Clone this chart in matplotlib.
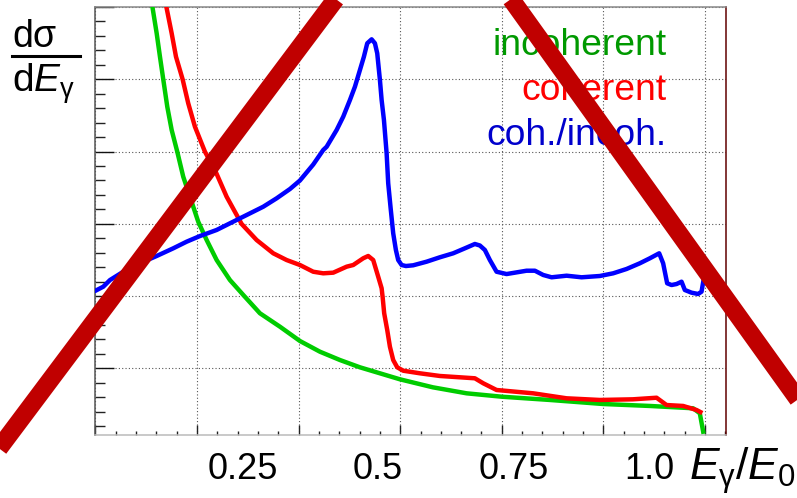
import numpy as np
import matplotlib.pyplot as plt
from matplotlib.lines import Line2D
from matplotlib.transforms import blended_transform_factory

plt.rcParams['font.family'] = ['Liberation Sans', 'DejaVu Sans']
plt.rcParams['mathtext.fontset'] = 'custom'
plt.rcParams['mathtext.rm'] = 'Liberation Sans'
plt.rcParams['mathtext.it'] = 'Liberation Sans:italic'

# incoherent spectrum (x = E_gamma/E0, arbitrary y units)
incoh_x = [0.0869, 0.0938, 0.1004, 0.1058, 0.1112, 0.1178, 0.1250, 0.1342, 0.1440,
           0.1550, 0.1686, 0.1824, 0.1988, 0.2206, 0.2436, 0.2698, 0.3027, 0.3355,
           0.3683, 0.4011, 0.4339, 0.4667, 0.4995, 0.5536, 0.6089, 0.6668, 0.7456,
           0.8330, 0.9096, 0.9806, 0.9916, 0.9971]
incoh_y = [6.374, 5.982, 5.636, 5.312, 4.999, 4.620, 4.298, 3.997, 3.651,
           3.374, 3.028, 2.775, 2.498, 2.221, 2.004, 1.761, 1.575, 1.377,
           1.229, 1.114, 1.013, 0.930, 0.847, 0.736, 0.653, 0.606, 0.561,
           0.505, 0.478, 0.446, 0.376, 0.122]

# coherent spectrum
coh_x = [0.1066, 0.1168, 0.1250, 0.1321, 0.1430, 0.1522, 0.1632, 0.1796, 0.1960,
         0.2152, 0.2398, 0.2644, 0.2917, 0.3136, 0.3355, 0.3573, 0.3737, 0.3901,
         0.4121, 0.4229, 0.4393, 0.4475, 0.4557, 0.4639, 0.4695, 0.4711, 0.4737,
         0.4787, 0.4831, 0.4885, 0.4951, 0.5049, 0.5323, 0.5651, 0.6225, 0.6362,
         0.6581, 0.7182, 0.7730, 0.8276, 0.8817, 0.9206, 0.9370, 0.9642, 0.9862,
         0.9925]
coh_y = [6.374, 5.982, 5.636, 5.312, 4.999, 4.667, 4.343, 3.997, 3.744,
         3.374, 2.997, 2.775, 2.591, 2.498, 2.429, 2.336, 2.314, 2.323,
         2.406, 2.429, 2.522, 2.554, 2.498, 2.267, 2.107, 1.990, 1.761,
         1.529, 1.298, 1.114, 1.013, 0.966, 0.930, 0.893, 0.861, 0.792,
         0.699, 0.653, 0.584, 0.561, 0.570, 0.592, 0.491, 0.478, 0.422,
         0.394]

# ratio coherent / incoherent
ratio_x = [0.0, 0.0128, 0.0238, 0.0456, 0.0730, 0.1004, 0.1276, 0.1496, 0.1714,
           0.1988, 0.2206, 0.2480, 0.2753, 0.2972, 0.3191, 0.3355, 0.3573, 0.3737,
           0.3793, 0.3957, 0.4065, 0.4175, 0.4257, 0.4339, 0.4404, 0.4459, 0.4531,
           0.4585, 0.4623, 0.4667, 0.4695, 0.4733, 0.4777, 0.4803, 0.4843, 0.4885,
           0.4929, 0.4967, 0.5023, 0.5093, 0.5213, 0.5433, 0.5651, 0.5869, 0.6061,
           0.6225, 0.6307, 0.6389, 0.6471, 0.6581, 0.6745, 0.7073, 0.7210, 0.7346,
           0.7484, 0.7730, 0.7976, 0.8276, 0.8494, 0.8714, 0.8932, 0.9096, 0.9249,
           0.9314, 0.9380, 0.9452, 0.9534, 0.9616, 0.9670, 0.9780, 0.9888, 0.9944,
           0.9982]
ratio_y = [2.073, 2.129, 2.221, 2.336, 2.453, 2.554, 2.660, 2.752, 2.830,
           2.914, 3.006, 3.121, 3.236, 3.352, 3.481, 3.599, 3.820, 4.021,
           4.066, 4.298, 4.482, 4.713, 4.897, 5.128, 5.312, 5.498, 5.553,
           5.498, 5.359, 4.990, 4.713, 4.436, 3.975, 3.560, 3.214, 2.868,
           2.637, 2.498, 2.429, 2.415, 2.425, 2.475, 2.536, 2.591, 2.660,
           2.720, 2.699, 2.637, 2.498, 2.336, 2.304, 2.350, 2.350, 2.291,
           2.259, 2.281, 2.259, 2.277, 2.314, 2.374, 2.453, 2.522, 2.591,
           2.453, 2.176, 2.152, 2.166, 2.198, 2.083, 2.046, 2.028, 2.060,
           2.245]

tick_labels = ['0.25', '0.5', '0.75', '1.0']
tick_label_pos = [0.242, 0.463, 0.686, 0.908]
legend_names = ['incoherent', 'coherent', 'coh./incoh.']
legend_colors = ['#009900', '#ff0000', '#0000cc']

fig = plt.figure(figsize=(7.97, 4.98), dpi=100)
ax = fig.add_axes([0.1198, 0.1265, 0.7907, 0.8594])

ax.plot(incoh_x, incoh_y, color='#00cc00', lw=3.2, zorder=3)
ax.plot(coh_x, coh_y, color='#ff0000', lw=3.2, zorder=3)
ax.plot(ratio_x, ratio_y, color='#0000ff', lw=3.2, zorder=3)

ax.set_xlim(0, 1.034)
ax.set_ylim(0.076, 6.0)
ax.set_xticks(np.arange(0, 7) / 6)
ax.set_xticks(np.arange(0, 32) / 30, minor=True)
ax.set_yticks(np.arange(1, 7))
ax.set_yticks(np.arange(1, 30) * 0.2, minor=True)
ax.tick_params(labelbottom=False, labelleft=False)
ax.tick_params(axis='x', which='major', direction='in', length=7.2, width=1, color='#222222')
ax.tick_params(axis='x', which='minor', direction='in', length=3, width=1, color='#222222')
ax.tick_params(axis='y', which='major', direction='in', length=13.7, width=1, color='#111111')
ax.tick_params(axis='y', which='minor', direction='in', length=7, width=1, color='#222222')
ax.grid(which='major', linestyle=(0, (1, 2)), color='#555555', lw=0.8)

ax.spines['top'].set_color('#888888')
ax.spines['left'].set_color('#555555')
ax.spines['bottom'].set_color('#bbbbbb')
ax.spines['right'].set_color('#600000')
for s in ax.spines.values():
    s.set_linewidth(1.1)

# x tick labels (placed by hand, as in the original)
trans = blended_transform_factory(ax.transData, fig.transFigure)
for lab, pos in zip(tick_labels, tick_label_pos):
    ax.text(pos, 0.038, lab, transform=trans, ha='center', va='baseline',
            fontsize=26, clip_on=False)

fig.text(0.8640, 0.036, r'$E_{\mathrm{γ}}/E_{\mathrm{0}}$', fontsize=32,
         ha='left', va='baseline')

# y label as a fraction
fig.text(0.0151, 0.9062, 'dσ', fontsize=27, ha='left', va='baseline')
fig.add_artist(Line2D([0.0154, 0.1004], [0.8876, 0.8876], transform=fig.transFigure,
                      color='black', lw=2.2))
fig.text(0.0151, 0.8159, r'd$E_{\mathrm{γ}}$', fontsize=28, ha='left', va='baseline')

for name, col, yb in zip(legend_names, legend_colors, [0.8896, 0.7992, 0.7088]):
    fig.text(0.8365, yb, name, color=col, fontsize=26.8, ha='right', va='baseline')

# big cross over the whole picture
fig.add_artist(Line2D([-0.042, 0.4624], [0.0127, 1.0898], transform=fig.transFigure,
                      color='#c00000', lw=13, solid_capstyle='butt', zorder=10))
fig.add_artist(Line2D([0.6063, 1.0358], [1.0799, 0.1209], transform=fig.transFigure,
                      color='#c00000', lw=13, solid_capstyle='butt', zorder=10))

fig.savefig('out.png', dpi=100)
